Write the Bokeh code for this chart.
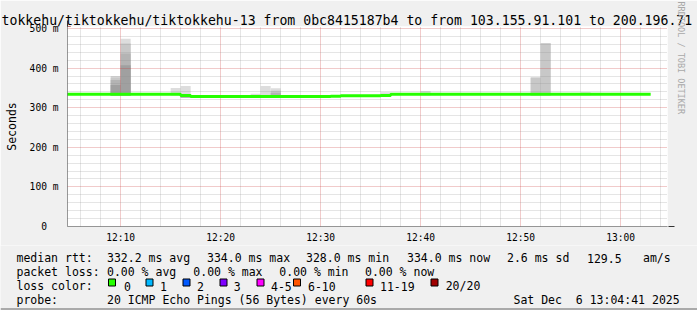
import math
from bokeh.plotting import figure
from bokeh.models import FixedTicker, Arrow, NormalHead, Title
from bokeh.core.properties import value
from bokeh.embed import file_html
from bokeh.resources import INLINE

# ---------------- data ----------------
title_text = "tokkehu/tiktokkehu/tiktokkehu-13 from 0bc8415187b4 to from 103.155.91.101 to 200.196.71"
range_start = "12:04:41"
range_end = "13:04:41"

# median rtt (ms), one value per minute starting at 12:04
first_bin = "12:04"
median_ms = [
    334, 334, 334, 334, 334, 334, 334, 334, 334, 334, 334, 334,            # 12:04-12:15
    331,                                                                   # 12:16
    328, 328, 328, 328, 328, 328, 328, 328, 328, 328, 328, 328, 328, 328,  # 12:17-12:30
    329,                                                                   # 12:31
    330, 330, 330, 330,                                                    # 12:32-12:35
    331,                                                                   # 12:36
    334, 334, 334, 334, 334, 334, 334, 334, 334, 334, 334, 334, 334,       # 12:37-12:49
    334, 334, 334, 334, 334, 334, 334, 334, 334, 334, 334, 334, 334,       # 12:50-13:02
]

# smoke (ping spread) per minute, ms
smoke_time = ["12:09", "12:10", "12:15", "12:16", "12:23", "12:24", "12:25", "12:36", "12:40", "12:51", "12:52", "12:56"]
smoke_min  = [331,   331,   331,   325.5, 326,   326,   326,   329,   331,   331,   331,   331]
smoke_l1   = [380,   474,   350,   355,   335,   355,   349,   339,   342,   376,   463,   339]
smoke_l2   = [376,   462,   331,   330,   326,   326,   343,   329,   331,   376,   463,   331]
smoke_l3   = [370,   437,   331,   330,   326,   326,   338,   329,   331,   331,   331,   331]
smoke_l4   = [357,   407,   331,   330,   326,   326,   330,   329,   331,   331,   331,   331]

x_tick_labels = ["12:10", "12:20", "12:30", "12:40", "12:50", "13:00"]
y_tick_values = [0, 100, 200, 300, 400, 500]
y_tick_labels = ["0\u00a0\u00a0", "100 m", "200 m", "300 m", "400 m", "500 m"]

rtt_stats = ["332.2 ms avg", "334.0 ms max", "328.0 ms min", "334.0 ms now", "2.6 ms sd", "129.5", "am/s"]
loss_stats = ["0.00 % avg", "0.00 % max", "0.00 % min", "0.00 % now"]
loss_labels = ["0", "1", "2", "3", "4-5", "6-10", "11-19", "20/20"]
loss_colors = ["#26ff00", "#00b8ff", "#0059ff", "#7e00ff", "#ff00ff", "#ff5500", "#ff0000", "#a00000"]
probe_text = "20 ICMP Echo Pings (56 Bytes) every 60s"
stamp_text = "Sat Dec \u00a06 13:04:41 2025"
watermark = "RRDTOOL / TOBI OETIKER"


def to_min(s):
    parts = [int(v) for v in s.split(":")]
    sec = parts[2] if len(parts) > 2 else 0
    return (parts[0] - 12) * 60 + parts[1] + sec / 60.0


# ---------------- main chart ----------------
W = 697
H1, H2 = 245, 65
FL, FR, FT, FB = 67, 30, 26, 17
MONO = "DejaVu Sans Mono"
BG = "#f0f0f0"

x0, x1 = to_min(range_start), to_min(range_end)
p = figure(width=W, height=H1, x_range=(x0, x1), y_range=(0, 505),
           output_backend="svg", toolbar_location=None,
           min_border_left=FL, min_border_right=FR, min_border_top=FT, min_border_bottom=FB,
           background_fill_color="white", border_fill_color=BG,
           outline_line_color=None)

# title
p.add_layout(Title(text=title_text, align="left", offset=1 - FL, standoff=-3,
                   vertical_align="bottom", text_font=MONO, text_font_size="13.2px",
                   text_font_style="normal", text_color="black",
                   background_fill_color=None), "above")
# watermark on the right
p.add_layout(Title(text=watermark, align="left", offset=-25, standoff=16,
                   text_font=MONO, text_font_size="8.5px", text_font_style="normal",
                   text_color="#a8a8a8"), "right")

# smoke layers (lightest first)
shades = ["#dddddd", "#c8c8c8", "#b4b4b4", "#a0a0a0"]
sl = [to_min(t) for t in smoke_time]
sr = [v + 1 for v in sl]
for tops, col in zip([smoke_l1, smoke_l2, smoke_l3, smoke_l4], shades):
    p.quad(left=sl, right=sr, bottom=smoke_min, top=tops, fill_color=col,
           line_color=None, level="image")

# median step line
fb = to_min(first_bin)
mx = [fb + i for i in range(len(median_ms))] + [fb + len(median_ms)]
my = list(median_ms) + [median_ms[-1]]
p.step(mx, my, mode="after", line_color="#26ff00", line_width=3)

# axes / ticks
xt = [to_min(t) for t in x_tick_labels]
xminor = [v for v in range(6, 65, 2) if v % 10 != 0]
p.xaxis.ticker = FixedTicker(ticks=xt, minor_ticks=xminor)
p.xaxis.major_label_overrides = {v: s for v, s in zip(xt, x_tick_labels)}
yminor = [v for v in range(20, 505, 20) if v % 100 != 0]
p.yaxis.ticker = FixedTicker(ticks=y_tick_values, minor_ticks=yminor)
p.yaxis.major_label_overrides = {v: s for v, s in zip(y_tick_values, y_tick_labels)}

for ax in (p.xaxis[0], p.yaxis[0]):
    ax.axis_line_color = None
    ax.major_tick_line_color = None
    ax.minor_tick_line_color = None
    ax.major_tick_out = 0
    ax.minor_tick_out = 0
    ax.major_tick_in = 0
    ax.minor_tick_in = 0
    ax.major_label_text_font = MONO
    ax.major_label_text_font_size = "9.6px"
    ax.major_label_text_color = "black"
p.xaxis.major_label_standoff = 5
p.yaxis.major_label_standoff = 9
p.yaxis.axis_label = "Seconds"
p.yaxis.axis_label_text_font = MONO
p.yaxis.axis_label_text_font_size = "11.5px"
p.yaxis.axis_label_text_font_style = "normal"
p.yaxis.axis_label_text_color = "black"
p.yaxis.axis_label_standoff = 8

for g in (p.xgrid[0], p.ygrid[0]):
    g.grid_line_color = "#c83232"
    g.grid_line_alpha = 0.5
    g.grid_line_dash = "1 1"
    g.minor_grid_line_color = "#8c8c8c"
    g.minor_grid_line_alpha = 0.45
    g.minor_grid_line_dash = "1 1"
    g.level = "underlay"

# axis lines with arrow heads (screen units, relative to plot area)
PH = H1 - FT - FB
head_col = "#9b1c1c"
p.add_layout(Arrow(x_start=-5, y_start=0, x_end=W - FL - FR + 7, y_end=0,
                   start_units="screen", end_units="screen", line_color="#333333", line_width=1,
                   end=NormalHead(size=6, fill_color=head_col, line_color=head_col)))
p.add_layout(Arrow(x_start=0, y_start=-5, x_end=0, y_end=PH + 4,
                   start_units="screen", end_units="screen", line_color="#333333", line_width=1,
                   end=NormalHead(size=6, fill_color=head_col, line_color=head_col)))

# ---------------- legend strip (separate root, not frame-aligned) ----------------
q = figure(width=W, height=H2, x_range=(0, W), y_range=(H1 + H2, H1),
           output_backend="svg", toolbar_location=None,
           x_axis_location=None, y_axis_location=None, min_border=0,
           background_fill_color=BG, border_fill_color=BG, outline_line_color=None)
q.xgrid.visible = False
q.ygrid.visible = False

rows = [257.5, 271.5, 285.5, 299.5]
tx, ty, tt = [], [], []


def put(cx, cy, s):
    tx.append(cx)
    ty.append(cy)
    tt.append(s)


put(16, rows[0], "median rtt:")
for s, cx in zip(rtt_stats, [107, 207, 306, 407, 507, 587, 643]):
    put(cx - 0.5, rows[0], s)
put(16, rows[1], "packet loss:")
for s, cx in zip(loss_stats, [107, 193.3, 279.3, 365]):
    put(cx - 0.5, rows[1], s)
put(16, rows[2], "loss color:")
box_x = [108, 145.5, 182.5, 219.5, 256.5, 293, 365.5, 430.5]
lab_x = [124, 160, 197, 233.7, 271, 308, 380, 445.7]
for lx, lab in zip(lab_x, loss_labels):
    put(lx - 0.5, rows[2], lab)
put(16, rows[3], "probe:")
put(106.5, rows[3], probe_text)
put(513, rows[3], stamp_text)

q.text(x=tx, y=ty, text=tt, text_font=value(MONO), text_font_size=value("11.5px"),
       text_color="black", text_baseline="alphabetic", text_align="left")
q.quad(left=box_x, right=[b + 7 for b in box_x], top=[278.5] * len(box_x),
       bottom=[285.5] * len(box_x), fill_color=loss_colors, line_color="black", line_width=1)
# shaded bottom edge of the image
q.quad(left=[0], right=[W], top=[307.5], bottom=[310], fill_color="#aaaaaa", line_color=None)

open("out.html", "w").write(file_html([p, q], INLINE))
